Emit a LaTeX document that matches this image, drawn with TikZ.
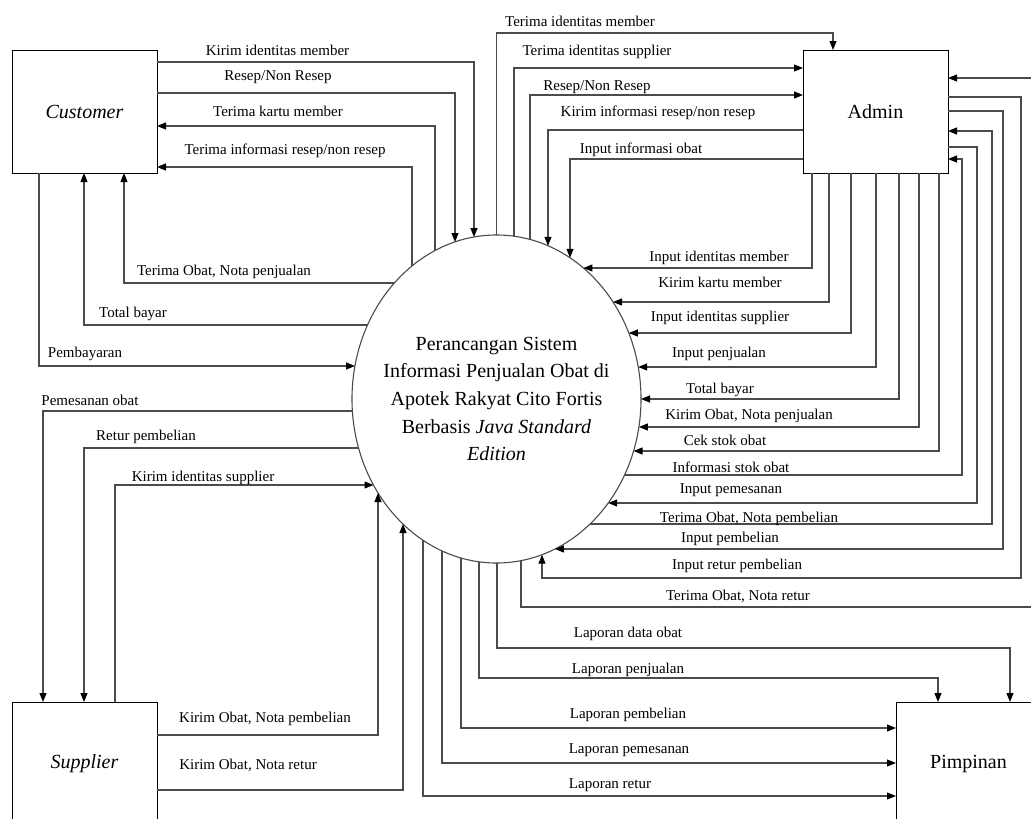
\documentclass[tikz,border=0pt]{standalone}
\usepackage{fontspec}
\setmainfont{Liberation Serif}
\usetikzlibrary{arrows.meta,shapes.geometric}
\definecolor{linec}{RGB}{75,75,75}
\begin{document}
\begin{tikzpicture}[x=1pt,y=-1pt,
  box/.style={draw=black, line width=1pt, minimum width=145pt, minimum height=123pt,
    inner sep=0pt, outer sep=0pt, font=\fontsize{20}{24}\selectfont},
  ln/.style={draw=linec, line width=1.1pt},
  flow/.style={ln, -{Triangle[length=9pt,width=7pt,color=black]}},
  lab/.style={font=\fontsize{15}{18}\selectfont, anchor=base, inner sep=0pt}]
\useasboundingbox (0,0) rectangle (1031,819);
\fill[white] (0,0) rectangle (1031,819);

% entities
\node[box] (cust) at (84.5,111.5) {\itshape Customer};
\node[box] (admin) at (875.5,111.5) {Admin};
\node[box] (supp) at (84.5,763.5) {\itshape Supplier};
\node[box] (pimp) at (968.5,763.5) {Pimpinan};
\node[ellipse, draw=linec, line width=1.1pt, minimum width=289pt, minimum height=328pt,
  inner sep=0pt, outer sep=0pt] (proc) at (496.5,399) {};
\node[align=center, inner sep=0pt, font=\fontsize{20}{27.7}\selectfont] (proctext) at (proc.center)
  {Perancangan Sistem\\Informasi Penjualan Obat di\\Apotek Rakyat Cito Fortis\\Berbasis \textit{Java Standard}\\\textit{Edition}};

% Customer flows
\draw[flow] (cust.east |- 0,62) -| (474,237);
\draw[flow] (cust.east |- 0,93) -| (455,242);
\draw[flow] (435,250.6) |- (cust.east |- 0,126);
\draw[flow] (412,266) |- (cust.east |- 0,167);
\draw[flow] (394.4,283) -| (cust.south -| 124,0);
\draw[flow] (367.5,325) -| (cust.south -| 84,0);
\draw[flow] (cust.south -| 39,0) |- (355,366);

% Supplier flows
\draw[flow] (352.4,411) -| (supp.north -| 43,0);
\draw[flow] (358.6,448) -| (supp.north -| 84,0);
\draw[flow] (supp.north -| 115,0) |- (373.5,485);
\draw[flow] (supp.east |- 0,735) -| (378,493);
\draw[flow] (supp.east |- 0,790) -| (403,524);

% Admin top / left flows
\draw[flow] (496.5,235) |- (833,33) -- (admin.north -| 833,0);
\draw[flow] (514,236.2) |- (admin.west |- 0,68);
\draw[flow] (530,239.5) |- (admin.west |- 0,95);
\draw[flow] (admin.west |- 0,130) -| (548,245.8);
\draw[flow] (admin.west |- 0,159) -| (570,257.8);

% Admin bottom flows
\draw[flow] (admin.south -| 812,0) |- (583.4,268);
\draw[flow] (admin.south -| 829,0) |- (613,302);
\draw[flow] (admin.south -| 851,0) |- (628.8,333);
\draw[flow] (admin.south -| 876,0) |- (638.2,367);
\draw[flow] (admin.south -| 899,0) |- (641,399);
\draw[flow] (admin.south -| 919,0) |- (638.9,427);
\draw[flow] (admin.south -| 939,0) |- (633.5,451);

% Admin right flows
\draw[flow] (624.5,475) -| (962,159) -- (admin.east |- 0,159);
\draw[flow] (admin.east |- 0,147) -| (977,503) -- (608.2,503);
\draw[flow] (590,524) -| (992,131) -- (admin.east |- 0,131);
\draw[flow] (admin.east |- 0,111) -| (1003,549) -- (554.9,549);
\draw[flow] (admin.east |- 0,97) -| (1021,578) -| (542,554.7);
\draw[flow] (521,560.6) |- (1034,607) |- (admin.east |- 0,78);

% Pimpinan flows
\draw[flow] (497,563) |- (1010,648) -- (pimp.north -| 1010,0);
\draw[flow] (479,561.8) |- (938,678) -- (pimp.north -| 938,0);
\draw[flow] (461,558) |- (pimp.west |- 0,728);
\draw[flow] (442,550.9) |- (pimp.west |- 0,763);
\draw[flow] (423,540.2) |- (pimp.west |- 0,796);

% labels
\node[lab] (l1) at (277.5,55) {Kirim identitas member};
\node[lab] (l2) at (278,80) {Resep/Non Resep};
\node[lab] (l3) at (278,116) {Terima kartu member};
\node[lab] (l4) at (285,154) {Terima informasi resep/non resep};
\node[lab] (l5) at (224,275) {Terima Obat, Nota penjualan};
\node[lab] (l6) at (133,317) {Total bayar};
\node[lab] (l7) at (85,357) {Pembayaran};
\node[lab] (l8) at (90,405) {Pemesanan obat};
\node[lab] (l9) at (146,440) {Retur pembelian};
\node[lab] (l10) at (203,481) {Kirim identitas supplier};
\node[lab] (l11) at (265,722) {Kirim Obat, Nota pembelian};
\node[lab] (l12) at (248,769) {Kirim Obat, Nota retur};
\node[lab] (l13) at (580,27) {Terima identitas member};
\node[lab] (l14) at (597,55) {Terima identitas supplier};
\node[lab] (l15) at (597,90) {Resep/Non Resep};
\node[lab] (l16) at (658,116) {Kirim informasi resep/non resep};
\node[lab] (l17) at (641,153) {Input informasi obat};
\node[lab] (l18) at (719,261) {Input identitas member};
\node[lab] (l19) at (720,287) {Kirim kartu member};
\node[lab] (l20) at (720,321) {Input identitas supplier};
\node[lab] (l21) at (719,357) {Input penjualan};
\node[lab] (l22) at (720,393) {Total bayar};
\node[lab] (l23) at (749,419) {Kirim Obat, Nota penjualan};
\node[lab] (l24) at (725,445) {Cek stok obat};
\node[lab] (l25) at (731,472) {Informasi stok obat};
\node[lab] (l26) at (731,493) {Input pemesanan};
\node[lab] (l27) at (749,522) {Terima Obat, Nota pembelian};
\node[lab] (l28) at (730,542) {Input pembelian};
\node[lab] (l29) at (737,569) {Input retur pembelian};
\node[lab] (l30) at (738,600) {Terima Obat, Nota retur};
\node[lab] (l31) at (628,637) {Laporan data obat};
\node[lab] (l32) at (628,673) {Laporan penjualan};
\node[lab] (l33) at (628,718) {Laporan pembelian};
\node[lab] (l34) at (629,753) {Laporan pemesanan};
\node[lab] (l35) at (610,788) {Laporan retur};
\end{tikzpicture}
\end{document}
